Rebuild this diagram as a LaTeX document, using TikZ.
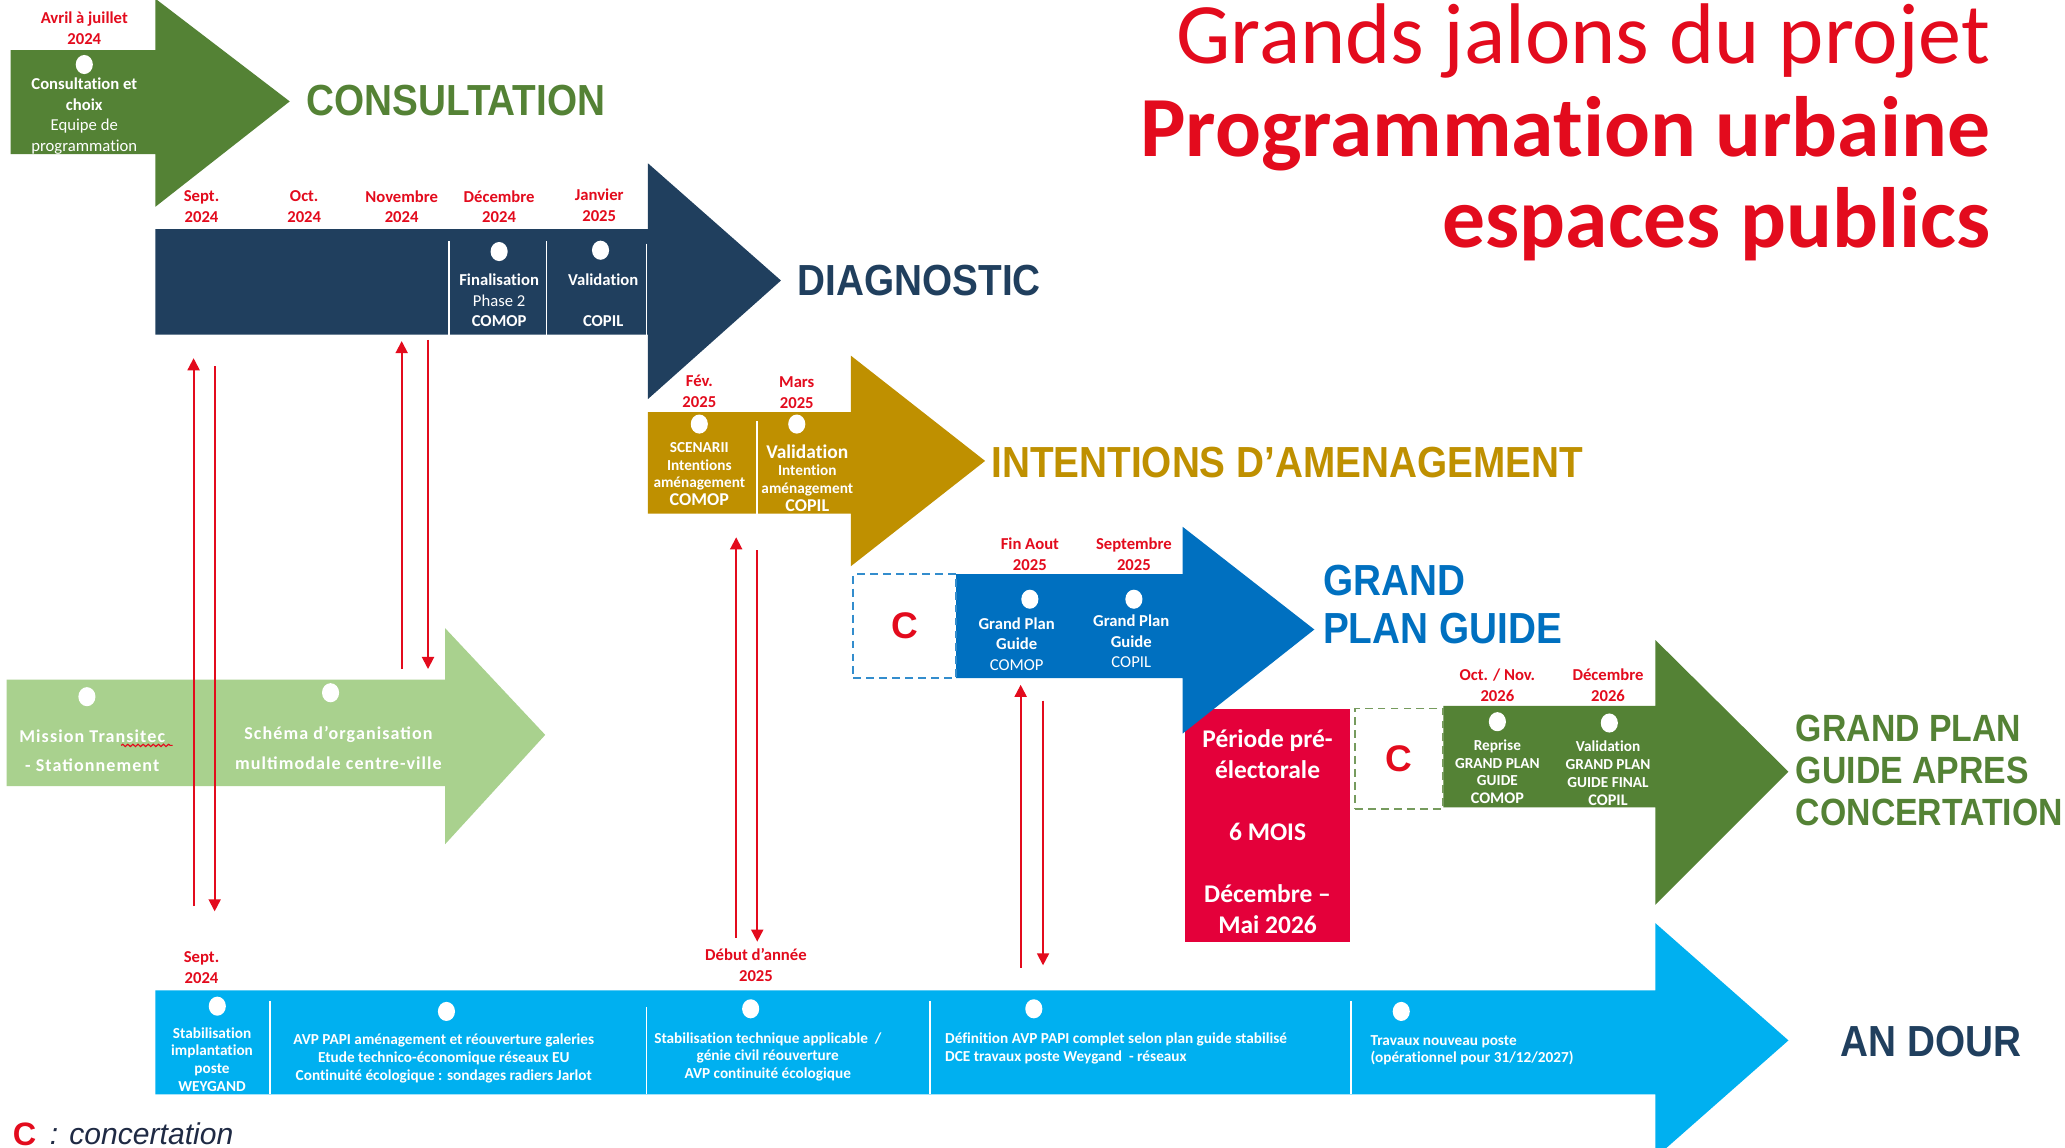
\documentclass[tikz,border=0pt]{standalone}
\usepackage{fontspec}
\setmainfont{Carlito}[Ligatures=NoCommon]
\newfontfamily\lblfamily[FakeStretch=0.89]{Liberation Sans}
\newfontfamily\legfamily{Liberation Sans}
\newfontfamily\spcfamily[LetterSpace=6]{Carlito}
\usepackage{tikz}
\usetikzlibrary{arrows.meta}
\usetikzlibrary{shapes.geometric}
\usetikzlibrary{positioning}
\usetikzlibrary{decorations.pathmorphing}

\definecolor{jred}{HTML}{E30B1D}
\definecolor{boxred}{HTML}{E4003A}
\definecolor{dkgreen}{HTML}{548235}
\definecolor{navy}{HTML}{203F5E}
\definecolor{gold}{HTML}{BF9000}
\definecolor{mblue}{HTML}{0070C0}
\definecolor{ltgreen}{HTML}{A9D18E}
\definecolor{ltblue}{HTML}{00B0F0}
\definecolor{legnavy}{HTML}{1F2A44}

\newcommand{\fdate}{\fontsize{3.6}{4.5}\selectfont\bfseries}
\newcommand{\fbody}{\fontsize{3.6}{4.45}\selectfont}
\newcommand{\fsmall}{\fontsize{3.3}{3.85}\selectfont}
\newcommand{\flabel}{\lblfamily\bfseries\fontsize{9.4}{10.2}\selectfont}

\begin{document}
\begin{tikzpicture}[x=0.1mm, y=-0.1mm,
jalon/.style={ellipse, fill=white, inner sep=0pt, minimum width=1.3mm, minimum height=1.45mm},
datelbl/.style={text=jred, align=center, inner sep=0pt, font=\fdate},
txt/.style={text=white, align=center, inner sep=0pt, font=\fbody},
lbl/.style={anchor=west, inner sep=0pt, font=\flabel},
divider/.style={white, line width=0.35pt},
redarr/.style={jred, line width=0.4pt, -{Triangle[length=2.6pt, width=2.6pt]}},
cbox/.style={dashed, dash pattern=on 1.7pt off 1.1pt, line width=0.4pt, text=jred,
  font=\legfamily\bfseries\fontsize{8}{9}\selectfont}]
\useasboundingbox (0,0) rectangle (1568,871);
\fill[white] (0,0) rectangle (1568,871);
\clip (0,0) rectangle (1568,871);

% titre
\node[anchor=base east, inner sep=0pt, text=jred, font=\fontsize{18.6}{20}\selectfont] (titre1) at (1512,48) {Grands jalons du projet};
\node[anchor=base east, inner sep=0pt, text=jred, font=\fontsize{18.5}{20}\selectfont\bfseries] (titre2) at (1512,119) {Programmation urbaine};
\node[anchor=base east, inner sep=0pt, text=jred, font=\fontsize{18.5}{20}\selectfont\bfseries] (titre3) at (1512,188) {espaces publics};

% fleches
\fill[dkgreen] (8,38) -- (118,38) -- (118,-1) -- (220,77) -- (118,157) -- (118,117) -- (8,117) -- cycle;
\fill[navy] (118,174) -- (492,174) -- (492,124) -- (593,213) -- (492,303) -- (492,254) -- (118,254) -- cycle;
\fill[gold] (492,313) -- (646,313) -- (646,270) -- (748,350) -- (646,430) -- (646,390) -- (492,390) -- cycle;
\node[fill=boxred, minimum width=12.5mm, minimum height=17.7mm, text=white, align=center, inner sep=0pt,
  font=\fontsize{5.5}{6.7}\selectfont\bfseries] (electo) at (962.5,626.5)
  {\rule{0pt}{6.6pt}Période pré-\\électorale\\[6.7pt]6 MOIS\\[6.7pt]Décembre –\\Mai 2026};
\fill[mblue] (726,436) -- (898,436) -- (898,400) -- (998,478) -- (898,557) -- (898,515) -- (726,515) -- cycle;
\fill[dkgreen] (1096,536) -- (1257,536) -- (1257,486) -- (1358,586) -- (1257,687) -- (1257,613) -- (1096,613) -- cycle;
\fill[ltgreen] (5,516) -- (338,516) -- (338,477) -- (414,558) -- (338,641) -- (338,597) -- (5,597) -- cycle;
\fill[ltblue] (118,752) -- (1257,752) -- (1257,701) -- (1358,790) -- (1257,879) -- (1257,831) -- (118,831) -- cycle;

% separations
\draw[divider] (341,183) -- (341,254);
\draw[divider] (415,183) -- (415,254);
\draw[divider] (491,185) -- (491,254);
\draw[divider] (575,320) -- (575,390);
\draw[divider] (205,760) -- (205,831);
\draw[divider] (491,765) -- (491,831);
\draw[divider] (706,760) -- (706,831);
\draw[divider] (1026,760) -- (1026,831);

% concertation
\node[cbox, draw=mblue!80, minimum width=7.8mm, minimum height=7.9mm] (cgpg) at (687,475.5) {C};
\node[cbox, draw=dkgreen!80, minimum width=6.7mm, minimum height=7.6mm] (capres) at (1062.5,576) {C};

% dates
\node[datelbl] (m0) at (64,21.5) {Avril à juillet\\2024};
\node[datelbl] (m1) at (153,157) {Sept.\\2024};
\node[datelbl] (m2) at (231,157) {Oct.\\2024};
\node[datelbl] (m3) at (305,157) {Novembre\\2024};
\node[datelbl] (m4) at (379,157) {Décembre\\2024};
\node[datelbl] (m5) at (455,156) {Janvier\\2025};
\node[datelbl] (m6) at (531,297) {Fév.\\2025};
\node[datelbl] (m7) at (605,298) {Mars\\2025};
\node[datelbl] (m8) at (782,421) {Fin Aout\\2025};
\node[datelbl] (m9) at (861,421) {Septembre\\2025};
\node[datelbl] (m10) at (1137,520) {Oct. / Nov.\\2026};
\node[datelbl] (m11) at (1221,520) {Décembre\\2026};
\node[datelbl] (m12) at (153,735) {Sept.\\2024};
\node[datelbl] (m13) at (574,733) {Début d’année\\2025};

% jalons
\node[jalon] (j0) at (64,49) {};
\node[jalon] (j1) at (379,191) {};
\node[jalon] (j2) at (456,190) {};
\node[jalon] (j3) at (531,322) {};
\node[jalon] (j4) at (605,322) {};
\node[jalon] (j5) at (782,455) {};
\node[jalon] (j6) at (861,455) {};
\node[jalon] (j7) at (1137,548) {};
\node[jalon] (j8) at (1222,549) {};
\node[jalon] (j9) at (66,529) {};
\node[jalon] (j10) at (251,526) {};
\node[jalon] (j11) at (165,764) {};
\node[jalon] (j12) at (339,768) {};
\node[jalon] (j13) at (570,766) {};
\node[jalon] (j14) at (785,766) {};
\node[jalon] (j15) at (1064,768) {};

% textes
\node[txt] (tcons) at (64,88) {{\bfseries Consultation et}\\{\bfseries choix}\\Equipe de\\programmation};
\node[txt] (tdiag1) at (379,228) {{\bfseries Finalisation}\\Phase 2\\{\bfseries COMOP}};
\node[txt] (tdiag2) at (458,228) {{\bfseries Validation}\\[4.45pt]{\bfseries COPIL}};
\node[txt, font=\fsmall\bfseries] (tint1) at (531,360) {SCENARII\\Intentions\\aménagement\\{\fontsize{3.9}{4.4}\selectfont COMOP}};
\node[txt, font=\fsmall\bfseries] (tint2) at (613,363) {{\fontsize{4.2}{4.4}\selectfont Validation}\\Intention\\aménagement\\{\fontsize{3.9}{4.4}\selectfont COPIL}};
\node[txt] (tgpg1) at (772,489) {{\bfseries Grand Plan}\\{\bfseries Guide}\\COMOP};
\node[txt] (tgpg2) at (859,487) {{\bfseries Grand Plan}\\{\bfseries Guide}\\COPIL};
\node[txt, font=\fsmall\bfseries] (tapr1) at (1137,586) {Reprise\\GRAND PLAN\\GUIDE\\{\fontsize{3.5}{4}\selectfont COMOP}};
\node[txt, font=\fsmall\bfseries] (tapr2) at (1221,587) {Validation\\GRAND PLAN\\GUIDE FINAL\\{\fontsize{3.5}{4}\selectfont COPIL}};
\node[txt, font=\spcfamily\bfseries\fontsize{3.9}{6.3}\selectfont] (tvert1) at (70,570) {Mission Transitec\\- Stationnement};
\node[txt, font=\spcfamily\bfseries\fontsize{3.9}{6.3}\selectfont] (tvert2) at (257,568) {Schéma d’organisation\\multimodale centre-ville};
\draw[jred, line width=0.25pt, decorate, decoration={snake, amplitude=0.25pt, segment length=1.1pt}] (92,566) -- (131,566);
\node[txt, font=\fsmall\bfseries] (tdour1) at (161,804.5) {Stabilisation\\implantation\\poste\\WEYGAND};
\node[txt, font=\fsmall\bfseries] (tdour2) at (337,803.5) {AVP PAPI aménagement et réouverture galeries\\Etude technico-économique réseaux EU\\Continuité écologique : sondages radiers Jarlot};
\node[txt, font=\fsmall\bfseries] (tdour3) at (583,802.5) {Stabilisation technique applicable ~/\\génie civil réouverture\\AVP continuité écologique};
\node[txt, font=\fsmall\bfseries, align=left, anchor=west] (tdour4) at (717,796) {Définition AVP PAPI complet selon plan guide stabilisé\\DCE travaux poste Weygand ~- réseaux};
\node[txt, font=\fsmall\bfseries, align=left, anchor=west] (tdour5) at (1040,797.5) {Travaux nouveau poste\\(opérationnel pour 31/12/2027)};

% libelles
\node[lbl, text=dkgreen] (lcons) at (232,76) {CONSULTATION};
\node[lbl, text=navy] (ldiag) at (605,213) {DIAGNOSTIC};
\node[lbl, text=gold] (linten) at (752,351) {INTENTIONS D’AMENAGEMENT};
\node[lbl, text=mblue, align=left] (lgpg) at (1004,459) {GRAND\\PLAN GUIDE};
\node[lbl, text=dkgreen, align=left, font=\lblfamily\bfseries\fontsize{8.2}{9}\selectfont] (lapres) at (1363,585) {GRAND PLAN\\GUIDE APRES\\CONCERTATION};
\node[lbl, text=navy] (ldour) at (1397,791) {AN DOUR};

% legende
\node[anchor=west, inner sep=0pt, text=jred, font=\legfamily\bfseries\fontsize{7}{8}\selectfont] (legc) at (9,861) {C};
\node[inner sep=0pt, text=legnavy, font=\legfamily\itshape\fontsize{6.5}{7.5}\selectfont, right=0.9mm of legc] (legtxt) {: concertation};

% allers-retours
\coordinate (a1) at (147,688); \coordinate (a1t) at (147,272);
\coordinate (b1) at (163,278); \coordinate (b1t) at (163,692);
\coordinate (a2) at (305,508); \coordinate (a2t) at (305,259);
\coordinate (b2) at (325,258); \coordinate (b2t) at (325,508);
\coordinate (a3) at (559,712); \coordinate (a3t) at (559,408);
\coordinate (b3) at (575,418); \coordinate (b3t) at (575,715);
\coordinate (a4) at (775,735); \coordinate (a4t) at (775,520);
\coordinate (b4) at (792,532); \coordinate (b4t) at (792,733);
\draw[redarr] (a1) -- (a1t);
\draw[redarr] (b1) -- (b1t);
\draw[redarr] (a2) -- (a2t);
\draw[redarr] (b2) -- (b2t);
\draw[redarr] (a3) -- (a3t);
\draw[redarr] (b3) -- (b3t);
\draw[redarr] (a4) -- (a4t);
\draw[redarr] (b4) -- (b4t);
\end{tikzpicture}
\end{document}
